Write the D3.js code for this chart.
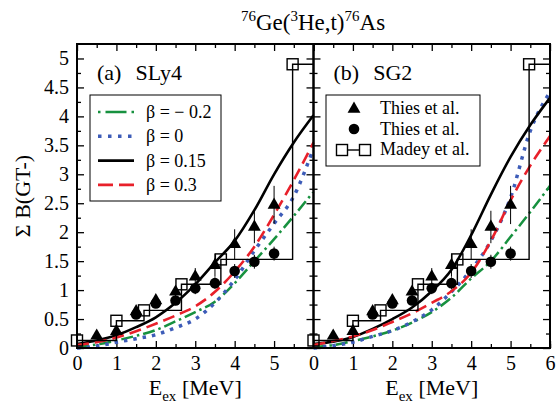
<!DOCTYPE html>
<html>
<head>
<meta charset="utf-8">
<script src="https://cdn.jsdelivr.net/npm/d3@7"></script>
<style>
  body { margin: 0; background: #fff; }
  svg { font-family: 'Liberation Serif', 'DejaVu Serif', serif; }
</style>
</head>
<body>
<div id="chart"></div>
<script>
// excitation energy grid for the calculated curves
const energy = [0, 0.5, 1, 1.5, 2, 2.5, 3, 3.5, 4, 4.5, 5, 5.5, 6];

// (a) SLy4
const sly4BetaM02 = [0.02, 0.06, 0.13, 0.21, 0.31, 0.46, 0.62, 0.8, 1.12, 1.5, 1.88, 2.28, 2.7];
const sly4Beta0 = [0.0, 0.03, 0.1, 0.16, 0.23, 0.35, 0.5, 0.78, 1.18, 1.68, 2.15, 2.62, 3.45];
const sly4Beta015 = [0.07, 0.13, 0.22, 0.36, 0.53, 0.78, 1.1, 1.48, 1.85, 2.38, 3.0, 3.55, 4.02];
const sly4Beta03 = [0.05, 0.1, 0.18, 0.29, 0.42, 0.56, 0.72, 0.97, 1.32, 1.75, 2.3, 2.9, 3.55];

// (b) SG2
const sg2BetaM02 = [0.02, 0.05, 0.12, 0.2, 0.3, 0.44, 0.62, 0.87, 1.2, 1.5, 1.92, 2.35, 2.8];
const sg2Beta0 = [0.0, 0.04, 0.1, 0.2, 0.3, 0.45, 0.66, 0.97, 1.35, 1.85, 2.6, 3.75, 4.42];
const sg2Beta015 = [0.07, 0.11, 0.19, 0.33, 0.5, 0.7, 0.98, 1.35, 1.95, 2.65, 3.3, 3.85, 4.32];
const sg2Beta03 = [0.05, 0.12, 0.2, 0.31, 0.45, 0.6, 0.78, 0.98, 1.3, 1.85, 2.55, 3.15, 3.66];

const betaLabels = ['β = − 0.2', 'β = 0', 'β = 0.15', 'β = 0.3'];

// experiment: Thies et al. (triangles)
const thiesTriE = [0.5, 1, 1.5, 2, 2.5, 3, 3.5, 4, 4.5, 5];
const thiesTriB = [0.21, 0.29, 0.63, 0.82, 0.97, 1.23, 1.43, 1.79, 2.09, 2.47];
const thiesTriErr = [0.05, 0.06, 0.06, 0.08, 0.1, 0.15, 0.2, 0.26, 0.28, 0.33];

// experiment: Thies et al. (circles)
const thiesCircE = [1.5, 2, 2.5, 3, 3.5, 4, 4.5, 5];
const thiesCircB = [0.58, 0.77, 0.82, 1.03, 1.12, 1.33, 1.49, 1.63];
const thiesCircErr = [0.05, 0.06, 0.08, 0.1, 0.1, 0.12, 0.12, 0.12];

// experiment: Madey et al. (open squares, step)
const madeyE = [0, 1, 1.7, 2.65, 3.65, 5.47];
const madeyB = [0.13, 0.47, 0.65, 1.1, 1.53, 4.9];

const yTicks = [0, 0.5, 1, 1.5, 2, 2.5, 3, 3.5, 4, 4.5, 5];

const W = 560, H = 405;
const plotTop = 44, plotBottom = 348;

const svg = d3.select('#chart')
  .append('svg')
  .attr('width', W)
  .attr('height', H);

const y = d3.scaleLinear().domain([0, 5.25]).range([plotBottom, plotTop]);

const curveStyles = [
  { color: '#17913f', dash: '12,4,2.5,4', w: 2.5, legendDash: '2.5,5,21,5,2.5,50' },
  { color: '#3d5cb8', dash: '3.5,6', w: 3.5, legendDash: '3.5,6.5' },
  { color: '#000', dash: null, w: 2.6, legendDash: null },
  { color: '#e8202a', dash: '12,6', w: 2.6, legendDash: '15,6' }
];

const panels = [
  { tag: '(a)', name: 'SLy4', left: 77, right: 313.5, lastLabel: 5,
    curves: [sly4BetaM02, sly4Beta0, sly4Beta015, sly4Beta03] },
  { tag: '(b)', name: 'SG2', left: 313.5, right: 550, lastLabel: 6,
    curves: [sg2BetaM02, sg2Beta0, sg2Beta015, sg2Beta03] }
];

panels.forEach((p, pi) => {
  const x = d3.scaleLinear().domain([0, 6]).range([p.left, p.right]);
  const g = svg.append('g');

  // ticks (inward on all sides)
  const major = d3.range(0, 6.01, 1);
  const minorX = d3.range(0.5, 6, 1);
  const minorY = d3.range(0.25, 5.25, 0.5);

  g.append('g')
    .attr('transform', 'translate(0,' + plotBottom + ')')
    .call(d3.axisBottom(x).tickValues(major.filter(v => v <= p.lastLabel))
      .tickSize(-7).tickSizeOuter(0).tickPadding(8).tickFormat(d3.format('d')))
    .call(a => a.select('.domain').remove())
    .call(a => a.selectAll('text').attr('font-size', 20).attr('font-family', 'Liberation Serif'));
  g.append('g')
    .attr('transform', 'translate(0,' + plotBottom + ')')
    .call(d3.axisBottom(x).tickValues(minorX.concat([6])).tickSize(-4).tickSizeOuter(0).tickFormat(''))
    .call(a => a.select('.domain').remove());
  g.append('g')
    .attr('transform', 'translate(0,' + plotTop + ')')
    .call(d3.axisTop(x).tickValues(major).tickSize(-7).tickSizeOuter(0).tickFormat(''))
    .call(a => a.select('.domain').remove());
  g.append('g')
    .attr('transform', 'translate(0,' + plotTop + ')')
    .call(d3.axisTop(x).tickValues(minorX).tickSize(-4).tickSizeOuter(0).tickFormat(''))
    .call(a => a.select('.domain').remove());

  g.append('g')
    .attr('transform', 'translate(' + p.left + ',0)')
    .call(d3.axisLeft(y).tickValues(yTicks).tickSize(-7).tickSizeOuter(0).tickPadding(8)
      .tickFormat(pi === 0 ? d3.format('') : ''))
    .call(a => a.select('.domain').remove())
    .call(a => a.selectAll('text').attr('font-size', 20).attr('font-family', 'Liberation Serif'));
  g.append('g')
    .attr('transform', 'translate(' + p.left + ',0)')
    .call(d3.axisLeft(y).tickValues(minorY).tickSize(-4).tickSizeOuter(0).tickFormat(''))
    .call(a => a.select('.domain').remove());
  g.append('g')
    .attr('transform', 'translate(' + p.right + ',0)')
    .call(d3.axisRight(y).tickValues(yTicks).tickSize(-7).tickSizeOuter(0).tickFormat(''))
    .call(a => a.select('.domain').remove());
  g.append('g')
    .attr('transform', 'translate(' + p.right + ',0)')
    .call(d3.axisRight(y).tickValues(minorY).tickSize(-4).tickSizeOuter(0).tickFormat(''))
    .call(a => a.select('.domain').remove());
  g.selectAll('.tick line').attr('stroke-width', 1.3);

  // calculated curves
  const line = d3.line()
    .x((d, i) => x(energy[i]))
    .y(d => y(d))
    .curve(d3.curveMonotoneX);

  p.curves.forEach((c, ci) => {
    const s = curveStyles[ci];
    g.append('path')
      .datum(c)
      .attr('d', line)
      .attr('fill', 'none')
      .attr('stroke', s.color)
      .attr('stroke-width', s.w)
      .attr('stroke-dasharray', s.dash);
  });

  // Madey et al. step
  const madey = madeyE.map((e, i) => [e, madeyB[i]]);
  madey.push([6, madeyB[madeyB.length - 1]]);
  g.append('path')
    .datum(madey)
    .attr('d', d3.line().x(d => x(d[0])).y(d => y(d[1])).curve(d3.curveStepAfter))
    .attr('fill', 'none')
    .attr('stroke', '#000')
    .attr('stroke-width', 1.4);

  // error bars
  g.selectAll('.errT')
    .data(thiesTriE)
    .enter()
    .append('line')
    .attr('x1', d => x(d)).attr('x2', d => x(d))
    .attr('y1', (d, i) => y(thiesTriB[i] - thiesTriErr[i]))
    .attr('y2', (d, i) => y(thiesTriB[i] + thiesTriErr[i]))
    .attr('stroke', '#000').attr('stroke-width', 1);
  g.selectAll('.errC')
    .data(thiesCircE)
    .enter()
    .append('line')
    .attr('x1', d => x(d)).attr('x2', d => x(d))
    .attr('y1', (d, i) => y(thiesCircB[i] - thiesCircErr[i]))
    .attr('y2', (d, i) => y(thiesCircB[i] + thiesCircErr[i]))
    .attr('stroke', '#000').attr('stroke-width', 1);

  g.selectAll('.circ')
    .data(thiesCircE)
    .enter()
    .append('circle')
    .attr('cx', d => x(d))
    .attr('cy', (d, i) => y(thiesCircB[i]))
    .attr('r', 5.3)
    .attr('fill', '#000');

  g.selectAll('.tri')
    .data(thiesTriE)
    .enter()
    .append('path')
    .attr('d', d3.symbol(d3.symbolTriangle).size(72))
    .attr('transform', (d, i) => 'translate(' + x(d) + ',' + y(thiesTriB[i]) + ')')
    .attr('fill', '#000');

  g.selectAll('.sq')
    .data(madeyE)
    .enter()
    .append('rect')
    .attr('x', d => x(d) - 5.5)
    .attr('y', (d, i) => y(madeyB[i]) - 5.5)
    .attr('width', 11)
    .attr('height', 11)
    .attr('fill', 'none')
    .attr('stroke', '#000')
    .attr('stroke-width', 1.4);

  // frame
  g.append('rect')
    .attr('x', p.left).attr('y', plotTop)
    .attr('width', p.right - p.left).attr('height', plotBottom - plotTop)
    .attr('fill', 'none').attr('stroke', '#000').attr('stroke-width', 2);

  // panel label
  const lab = g.append('text')
    .attr('x', p.left + 20)
    .attr('y', 80)
    .attr('font-size', 22);
  lab.append('tspan').text(p.tag);
  lab.append('tspan').attr('dx', 14).text(p.name);

  // x axis title
  const xt = g.append('text')
    .attr('x', (p.left + p.right) / 2)
    .attr('y', 395)
    .attr('text-anchor', 'middle')
    .attr('font-size', 22);
  xt.append('tspan').text('E');
  xt.append('tspan').attr('font-size', 15).attr('dy', 6).text('ex');
  xt.append('tspan').attr('dy', -6).text(' [MeV]');
});

// legend (a)
const legA = svg.append('g');
legA.append('rect')
  .attr('x', 90).attr('y', 95).attr('width', 131).attr('height', 106)
  .attr('fill', '#fff').attr('stroke', '#000').attr('stroke-width', 1);
betaLabels.forEach((t, i) => {
  const s = curveStyles[i];
  const yy = 112 + i * 24.3;
  legA.append('line')
    .attr('x1', 98).attr('x2', 134).attr('y1', yy).attr('y2', yy)
    .attr('stroke', s.color).attr('stroke-width', s.w)
    .attr('stroke-dasharray', s.legendDash);
  legA.append('text')
    .attr('x', 146).attr('y', yy + 6)
    .attr('font-size', 18)
    .text(t);
});

// legend (b)
const legB = svg.append('g');
legB.append('rect')
  .attr('x', 326).attr('y', 95).attr('width', 154).attr('height', 71)
  .attr('fill', '#fff').attr('stroke', '#000').attr('stroke-width', 1);
legB.append('path')
  .attr('d', d3.symbol(d3.symbolTriangle).size(72))
  .attr('transform', 'translate(354,109)');
legB.append('circle').attr('cx', 354).attr('cy', 129).attr('r', 5.3);
legB.append('line').attr('x1', 342).attr('x2', 365).attr('y1', 150).attr('y2', 150)
  .attr('stroke', '#000').attr('stroke-width', 1.4);
[342, 365].forEach(cx => {
  legB.append('rect').attr('x', cx - 5.5).attr('y', 144.5).attr('width', 11).attr('height', 11)
    .attr('fill', '#fff').attr('stroke', '#000').attr('stroke-width', 1.4);
});
['Thies et al.', 'Thies et al.', 'Madey et al.'].forEach((t, i) => {
  legB.append('text')
    .attr('x', 380).attr('y', 114 + i * 20.5)
    .attr('font-size', 18)
    .text(t);
});

// y axis title
svg.append('text')
  .attr('transform', 'translate(30,196) rotate(-90)')
  .attr('text-anchor', 'middle')
  .attr('font-size', 22)
  .text('Σ B(GT-)');

// main title
const title = svg.append('text')
  .attr('x', 313)
  .attr('y', 30)
  .attr('text-anchor', 'middle')
  .attr('font-size', 23);
title.append('tspan').attr('font-size', 15).attr('dy', -9).text('76');
title.append('tspan').attr('dy', 9).text('Ge(');
title.append('tspan').attr('font-size', 15).attr('dy', -9).text('3');
title.append('tspan').attr('dy', 9).text('He,t)');
title.append('tspan').attr('font-size', 15).attr('dy', -9).text('76');
title.append('tspan').attr('dy', 9).text('As');
</script>
</body>
</html>
